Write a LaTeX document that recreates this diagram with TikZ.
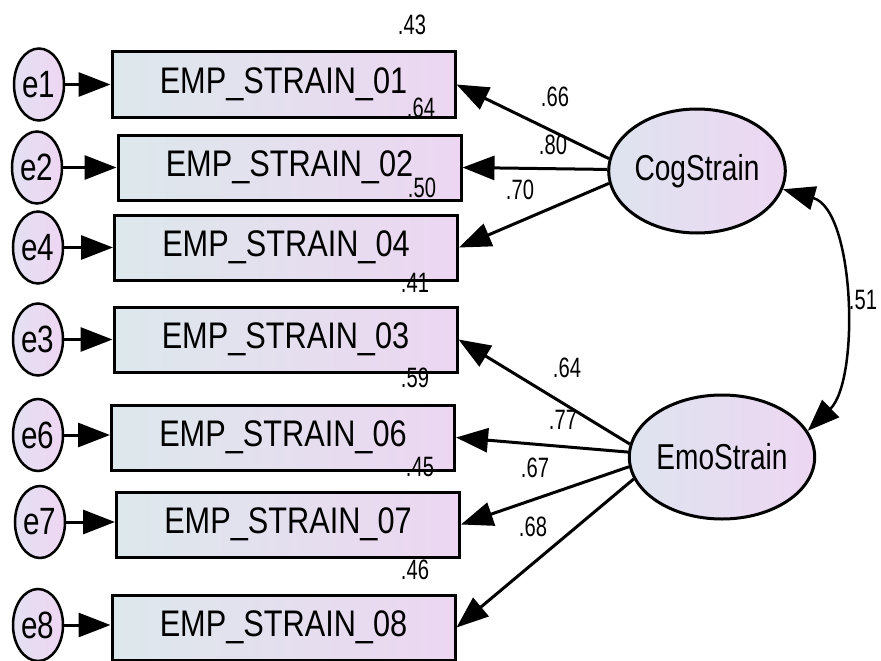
\documentclass[tikz,border=0pt]{standalone}
\usepackage{fontspec}
\setmainfont{Liberation Sans}
\newfontfamily\boxfont{Liberation Sans}[FakeStretch=0.83]
\newfontfamily\latfont{Liberation Sans}[FakeStretch=0.78]
\newfontfamily\numfont{Liberation Sans}[FakeStretch=0.72]
\usetikzlibrary{arrows.meta,shapes.geometric}

\definecolor{boxL}{RGB}{221,232,236}
\definecolor{boxR}{RGB}{236,214,241}
\definecolor{latL}{RGB}{222,228,239}
\definecolor{latR}{RGB}{237,214,242}
\definecolor{errL}{RGB}{228,224,242}
\definecolor{errR}{RGB}{238,214,242}

\tikzset{
  observed/.style={rectangle, draw, line width=3pt, minimum width=343pt,
    minimum height=65pt, inner sep=0pt, left color=boxL, right color=boxR,
    font=\boxfont\fontsize{37}{37}\selectfont},
  errorvar/.style={ellipse, draw, line width=2.5pt, minimum width=50pt,
    minimum height=72pt, inner sep=0pt, left color=errL, right color=errR,
    font=\latfont\fontsize{38}{38}\selectfont},
  latent/.style={ellipse, draw, line width=3pt, minimum width=160pt,
    minimum height=124pt, inner sep=0pt, left color=latL, right color=latR,
    font=\latfont\fontsize{36}{36}\selectfont},
  regpath/.style={line width=3pt, -{Triangle[length=32pt,width=24pt]}},
  covpath/.style={line width=2.5pt,
    {Triangle[length=32pt,width=24pt]}-{Triangle[length=32pt,width=24pt]}},
  coef/.style={inner sep=0pt, font=\numfont\fontsize{28}{28}\selectfont},
}

\begin{document}
\begin{tikzpicture}[x=1pt,y=-1pt]
\useasboundingbox (0,0) rectangle (881,661);

% observed indicators
\node[observed] (b01) at (283.5,84.5)  {EMP\_STRAIN\_01};
\node[observed] (b02) at (289.5,167.5) {EMP\_STRAIN\_02};
\node[observed] (b04) at (286,247.5)   {EMP\_STRAIN\_04};
\node[observed] (b03) at (285.5,339.5) {EMP\_STRAIN\_03};
\node[observed] (b06) at (283,437.5)   {EMP\_STRAIN\_06};
\node[observed] (b07) at (288,524.5)   {EMP\_STRAIN\_07};
\node[observed] (b08) at (283.5,627.5) {EMP\_STRAIN\_08};

% error terms
\node[errorvar] (e1) at (39,84.5)  {e1};
\node[errorvar] (e2) at (37,167.5) {e2};
\node[errorvar] (e4) at (38,247.5) {e4};
\node[errorvar] (e3) at (38,339.5) {e3};
\node[errorvar] (e6) at (38,435)   {e6};
\node[errorvar] (e7) at (40,522)   {e7};
\node[errorvar] (e8) at (38,625)   {e8};

% latent factors
\node[latent] (cog) at (697,171) {CogStrain};
\node[latent] (emo) at (722,457) {EmoStrain};

% error paths
\foreach \e/\b in {e1/b01,e2/b02,e4/b04,e3/b03,e6/b06,e7/b07,e8/b08}
  \draw[regpath] (\e) -- (\b.west |- \e);

% factor loadings
\draw[regpath] (cog.172) -- (b01.east);
\draw[regpath] (cog.179) -- (b02.east);
\draw[regpath] (cog.188) -- (b04.east);
\draw[regpath] (emo.172) -- (b03.east);
\draw[regpath] (emo.177) -- (b06.east);
\draw[regpath] (emo.186) -- (b07.east);
\draw[regpath] (emo.194) -- (b08.east);

% factor covariance
\draw[covpath] (cog.-12) .. controls (855,210) and (860,380) .. (emo.17);

% squared multiple correlations
\node[coef] at (412,25)  {.43};
\node[coef] at (421,108) {.64};
\node[coef] at (422,188) {.50};
\node[coef] at (415,283) {.41};
\node[coef] at (415,378) {.59};
\node[coef] at (420,467) {.45};
\node[coef] at (415,570) {.46};

% standardized loadings and correlation
\node[coef] at (555,97)  {.66};
\node[coef] at (553,145) {.80};
\node[coef] at (520,190) {.70};
\node[coef] at (567,368) {.64};
\node[coef] at (563,420) {.77};
\node[coef] at (535,468) {.67};
\node[coef] at (533,527) {.68};
\node[coef] at (863,300) {.51};
\end{tikzpicture}
\end{document}
